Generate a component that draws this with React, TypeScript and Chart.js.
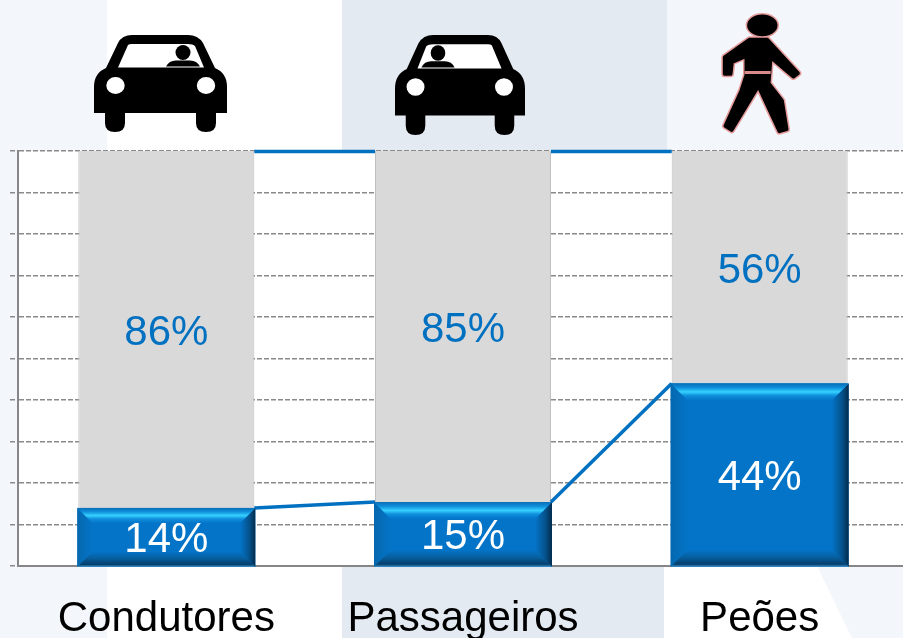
import React, { useEffect, useRef } from "react";
import { Chart, registerables } from "chart.js";

Chart.register(...registerables);

const categories = ["Condutores", "Passageiros", "Peões"];
const affected = [14, 15.4, 44];
const remainder = [86, 84.6, 56];
const valueLabelsBlue = ["14%", "15%", "44%"];
const valueLabelsGrey = ["86%", "85%", "56%"];
const FONT = "'Liberation Sans', Arial, sans-serif";
const BLUE = "#0474c8";
const TEXT_BLUE = "#0070c0";

function carPath(ctx: CanvasRenderingContext2D) {
  // local coordinates: 133 x 97 glyph
  const p = new Path2D();
  p.moveTo(0, 52);
  p.quadraticCurveTo(0, 38, 12, 33);
  p.lineTo(24, 8);
  p.quadraticCurveTo(28, 0, 38, 0);
  p.lineTo(94, 0);
  p.quadraticCurveTo(104, 0, 109, 8);
  p.lineTo(121, 33);
  p.quadraticCurveTo(133, 38, 133, 52);
  p.lineTo(133, 78);
  p.lineTo(122, 78);
  p.lineTo(122, 88);
  p.quadraticCurveTo(122, 97, 112, 97);
  p.quadraticCurveTo(102, 97, 102, 88);
  p.lineTo(102, 78);
  p.lineTo(31, 78);
  p.lineTo(31, 88);
  p.quadraticCurveTo(31, 97, 21, 97);
  p.quadraticCurveTo(11, 97, 11, 88);
  p.lineTo(11, 78);
  p.lineTo(0, 78);
  p.closePath();
  ctx.fillStyle = "#000";
  ctx.fill(p);
  ctx.fillStyle = "#fff";
  const w = new Path2D();
  w.moveTo(24, 32.5);
  w.lineTo(34, 10);
  w.quadraticCurveTo(35, 9, 38, 9);
  w.lineTo(94, 9);
  w.quadraticCurveTo(99, 9, 101, 11);
  w.lineTo(110, 32.5);
  w.closePath();
  ctx.fill(w);
  ctx.beginPath();
  ctx.ellipse(21.5, 50.5, 9.2, 8.5, 0, 0, Math.PI * 2);
  ctx.ellipse(112, 50.5, 9.2, 8.5, 0, 0, Math.PI * 2);
  ctx.fill();
  ctx.fillStyle = "#000";
  ctx.beginPath();
  ctx.arc(89, 17.5, 7.5, 0, Math.PI * 2);
  ctx.fill();
  ctx.beginPath();
  ctx.moveTo(72, 31.5);
  ctx.quadraticCurveTo(75, 25.5, 82, 25.5);
  ctx.lineTo(96, 25.5);
  ctx.quadraticCurveTo(103, 25.5, 106, 31.5);
  ctx.closePath();
  ctx.fill();
}

function walker(ctx: CanvasRenderingContext2D) {
  // local coordinates are 3x image pixels
  ctx.scale(1 / 3, 1 / 3);
  const body = new Path2D();
  const pts = [
    [328, 119], [382, 119], [474, 220], [460, 230], [392, 172], [386, 250], [426, 302],
    [440, 388], [418, 394], [355, 258], [275, 390], [256, 378], [304, 272], [319, 225],
    [319, 168], [276, 186], [272, 222], [254, 222], [254, 172],
  ];
  pts.forEach(([x, y], i) => (i ? body.lineTo(x, y) : body.moveTo(x, y)));
  body.closePath();
  const head = new Path2D();
  head.ellipse(367, 76, 40, 27, 0, 0, Math.PI * 2);
  ctx.lineJoin = "round";
  ctx.strokeStyle = "#e59a9a";
  ctx.lineWidth = 20;
  ctx.stroke(body);
  ctx.stroke(head);
  ctx.strokeStyle = "#000";
  ctx.lineWidth = 11;
  ctx.stroke(body);
  ctx.stroke(head);
  ctx.fillStyle = "#000";
  ctx.fill(body);
  ctx.fill(head);
  ctx.fillStyle = "#d98a8a";
  ctx.fillRect(314, 213, 78, 9);
}

const backdrop = {
  id: "backdrop",
  beforeDraw(chart: any) {
    const { ctx, chartArea: a, width, height } = chart;
    ctx.save();
    ctx.fillStyle = "#f3f6fb";
    ctx.fillRect(0, 0, width, height);
    ctx.fillStyle = "#ffffff";
    ctx.fillRect(107, 0, 235, height);
    ctx.fillStyle = "#e4eaf2";
    ctx.fillRect(342, 0, 325, height);
    ctx.fillStyle = "#ffffff";
    ctx.beginPath();
    ctx.moveTo(664, a.bottom);
    ctx.lineTo(817, a.bottom);
    ctx.lineTo(852, height);
    ctx.lineTo(664, height);
    ctx.closePath();
    ctx.fill();
    ctx.fillRect(a.left, a.top, a.right - a.left, a.bottom - a.top);
    ctx.restore();
  },
};

const overlay = {
  id: "overlay",
  afterDatasetsDraw(chart: any) {
    const { ctx, scales } = chart;
    const low = chart.getDatasetMeta(0).data;
    const high = chart.getDatasetMeta(1).data;
    const rows = low.map((b: any) => b.getProps(["x", "y", "base", "width"], true));
    const y100 = scales.y.getPixelForValue(100);

    // series lines
    ctx.save();
    ctx.strokeStyle = TEXT_BLUE;
    ctx.lineWidth = 3.5;
    for (let i = 0; i < rows.length - 1; i++) {
      const r = rows[i];
      const n = rows[i + 1];
      ctx.beginPath();
      ctx.moveTo(r.x + r.width / 2, r.y);
      ctx.lineTo(n.x - n.width / 2, n.y);
      ctx.stroke();
      ctx.beginPath();
      ctx.moveTo(r.x + r.width / 2, y100 + 0.5);
      ctx.lineTo(n.x - n.width / 2, y100 + 0.5);
      ctx.stroke();
    }
    ctx.restore();

    // bevels
    rows.forEach((r: any) => {
      const x0 = r.x - r.width / 2 - 1;
      const x1 = r.x + r.width / 2 + 1;
      const y0 = r.y;
      const y1 = r.base + 1.5;
      const d = Math.min(17, (y1 - y0) * 0.26);
      ctx.save();
      const top = ctx.createLinearGradient(0, y0, 0, y0 + d);
      top.addColorStop(0, "#0a6db5");
      top.addColorStop(0.25, "#0f8fdc");
      top.addColorStop(0.5, "#35d0ff");
      top.addColorStop(0.72, "#0f8fdc");
      top.addColorStop(1, "#0474c8");
      const bottom = ctx.createLinearGradient(0, y1 - d, 0, y1);
      bottom.addColorStop(0, "#0474c8");
      bottom.addColorStop(0.45, "#065f9e");
      bottom.addColorStop(0.85, "#063f6d");
      bottom.addColorStop(1, "#3c90c8");
      const left = ctx.createLinearGradient(x0, 0, x0 + d, 0);
      left.addColorStop(0, "#0568ae");
      left.addColorStop(1, "#0474c8");
      const right = ctx.createLinearGradient(x1 - d, 0, x1, 0);
      right.addColorStop(0, "#0474c8");
      right.addColorStop(0.6, "#05528c");
      right.addColorStop(1, "#032c4e");
      const quad = (pts: number[][], fill: any) => {
        ctx.beginPath();
        pts.forEach(([x, y], i) => (i ? ctx.lineTo(x, y) : ctx.moveTo(x, y)));
        ctx.closePath();
        ctx.fillStyle = fill;
        ctx.fill();
      };
      ctx.fillStyle = BLUE;
      ctx.fillRect(x0, y0, x1 - x0, y1 - y0);
      quad([[x0, y0], [x0 + d, y0 + d], [x0 + d, y1 - d], [x0, y1]], left);
      quad([[x1, y0], [x1 - d, y0 + d], [x1 - d, y1 - d], [x1, y1]], right);
      quad([[x0, y0], [x1, y0], [x1 - d, y0 + d], [x0 + d, y0 + d]], top);
      quad([[x0, y1], [x1, y1], [x1 - d, y1 - d], [x0 + d, y1 - d]], bottom);
      ctx.restore();
    });

    // value labels
    ctx.save();
    ctx.font = `42px ${FONT}`;
    ctx.textAlign = "center";
    ctx.textBaseline = "middle";
    rows.forEach((r: any, i: number) => {
      ctx.fillStyle = "#ffffff";
      ctx.fillText(valueLabelsBlue[i], r.x, (r.y + r.base) / 2 + 4);
      const g = high[i].getProps(["y", "base"], true);
      ctx.fillStyle = TEXT_BLUE;
      ctx.fillText(valueLabelsGrey[i], r.x, (g.y + g.base) / 2 + 4);
    });
    ctx.restore();

    // icons above the categories
    const icon = (x: number, y: number, draw: () => void, flip = false, sx = 1, sy = 1) => {
      ctx.save();
      ctx.translate(x, y);
      ctx.scale(flip ? -sx : sx, sy);
      draw();
      ctx.restore();
    };
    icon(94, 35, () => carPath(ctx));
    icon(525, 35, () => carPath(ctx), true, 130 / 133, 100 / 97);
    icon(640, 0, () => walker(ctx));
  },
};

export default function App() {
  const ref = useRef<HTMLCanvasElement>(null);
  useEffect(() => {
    const chart = new Chart(ref.current!, {
      type: "bar",
      data: {
        labels: categories,
        datasets: [
          { data: affected, backgroundColor: BLUE, borderWidth: 0 },
          { data: remainder, backgroundColor: "#d9d9d9", borderColor: "#bfbfbf", borderWidth: { left: 1, right: 1, top: 0, bottom: 0 } },
        ],
      },
      options: {
        responsive: false,
        animation: false,
        layout: { padding: { left: 10, top: 151, right: 0, bottom: 0 } },
        plugins: { legend: { display: false }, tooltip: { enabled: false }, title: { display: false } },
        datasets: { bar: { categoryPercentage: 1, barPercentage: 176 / 296.67 } },
        scales: {
          x: {
            stacked: true,
            afterFit: (s: any) => { s.height = 72; },
            grid: { display: false },
            border: { display: true, color: "#868686", width: 2 },
            ticks: { color: "#000", padding: 20, maxRotation: 0, font: { family: FONT, size: 42 } },
          },
          y: {
            stacked: true,
            min: 0,
            max: 100,
            afterFit: (s: any) => { s.width = 8; },
            grid: { color: "#8a8a8a", lineWidth: 1.5, tickLength: 8, drawTicks: true, tickBorderDash: [5, 3] },
            border: { display: true, color: "#868686", width: 2, dash: [5, 2] },
            ticks: { display: false, stepSize: 10 },
          },
        },
      } as any,
      plugins: [backdrop, overlay],
    });
    return () => chart.destroy();
  }, []);
  return (
    <div style={{ position: "absolute", left: 0, top: 0, width: 903, height: 638, overflow: "hidden" }}>
      <canvas ref={ref} width={908} height={638} style={{ display: "block" }} />
    </div>
  );
}
